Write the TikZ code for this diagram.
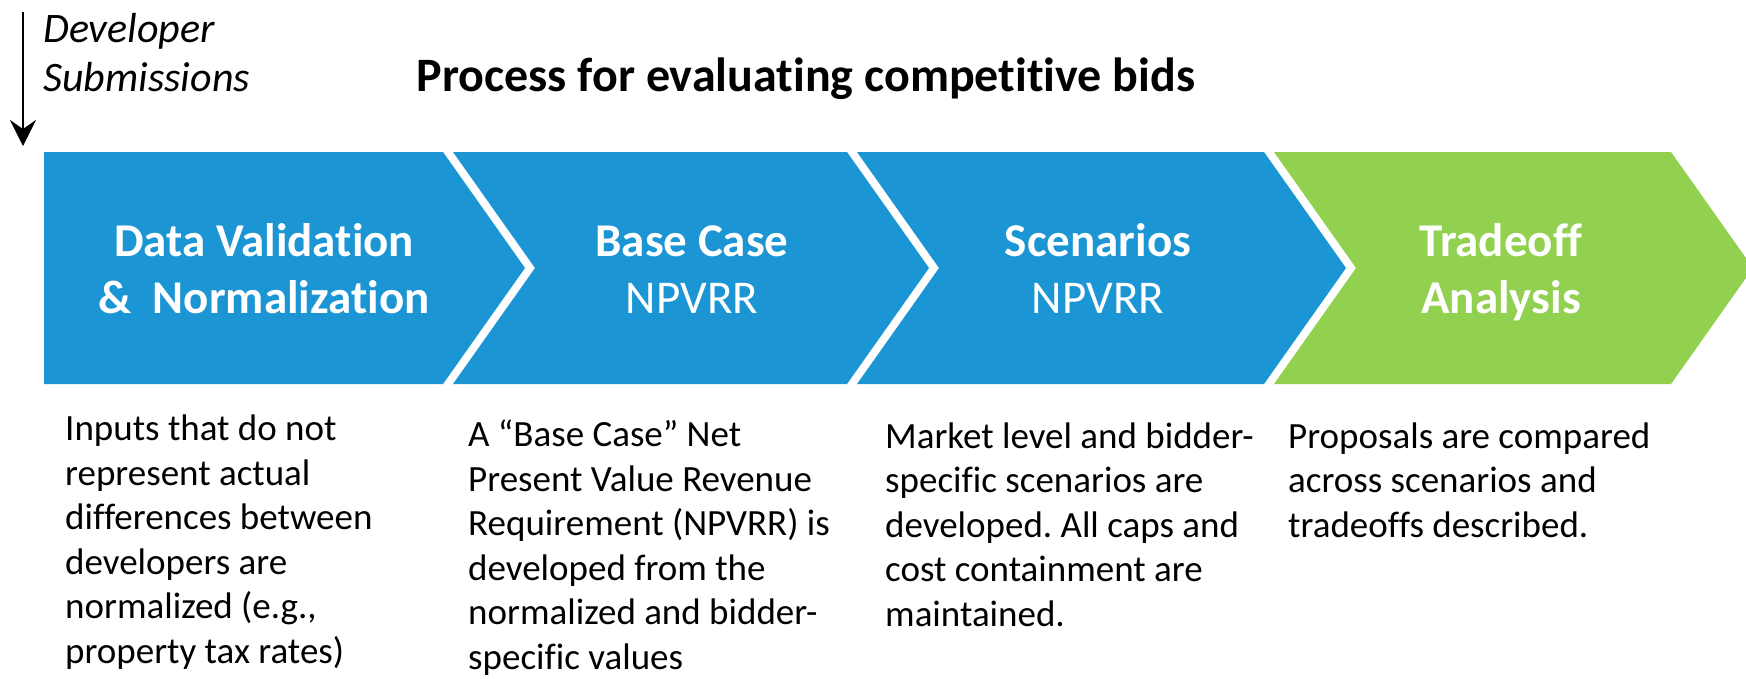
\documentclass[tikz,border=0pt]{standalone}
\usepackage{fontspec}
\setmainfont{Carlito}[Ligatures=NoCommon]
\usetikzlibrary{arrows.meta}
\definecolor{stepblue}{HTML}{1B95D3}
\definecolor{stepgreen}{HTML}{92D050}
\frenchspacing
\begin{document}
\begin{tikzpicture}[x=1pt,y=-1pt,
  % multi-line nodes are anchored at the baseline of their last line
  chevlabel/.style={anchor=base,text=white,align=center,inner sep=0pt,
    font=\fontsize{47}{56.7}\selectfont},
  bodytext/.style={anchor=base west,align=left,inner sep=0pt,
    font=\fontsize{37}{44.5}\selectfont},
  headtext/.style={anchor=base,inner sep=0pt,font=\bfseries\fontsize{48}{56}\selectfont},
  sidetext/.style={anchor=base west,align=left,inner sep=0pt,
    font=\itshape\fontsize{42}{49.5}\selectfont}]
\useasboundingbox (0,0) rectangle (1746,678);
\clip (0,0) rectangle (1746,678);

% process chevrons
\fill[stepblue] (44,152) -- (443,152) -- (525,268) -- (443,384) -- (44,384) -- cycle;
\fill[stepblue] (453,152) -- (847,152) -- (929,268) -- (847,384) -- (453,384) -- (535,268) -- cycle;
\fill[stepblue] (857,152) -- (1264,152) -- (1346,268) -- (1264,384) -- (857,384) -- (939,268) -- cycle;
\fill[stepgreen] (1274,152) -- (1671,152) -- (1753,268) -- (1671,384) -- (1274,384) -- (1356,268) -- cycle;

% chevron labels
\node[chevlabel] (s1) at (264,313.5) {\bfseries Data Validation\\\bfseries \&\ \ Normalization};
\node[chevlabel] (s2) at (692,313.5) {\bfseries Base Case\\NPVRR};
\node[chevlabel] (s3) at (1098,313.5) {\bfseries Scenarios\\NPVRR};
\node[chevlabel] (s4) at (1501,313.5) {\bfseries Tradeoff\\\bfseries Analysis};

% title and input arrow
\node[headtext] (title) at (806,91) {Process for evaluating competitive bids};
\node[sidetext] (dev) at (43,91.5) {Developer\\Submissions};
\coordinate (arrtop) at (23,12);
\coordinate (arrtip) at (23,146);
\draw[line width=2pt,-{Stealth[length=26pt,width=26pt,inset=9pt]}] (arrtop) -- (arrtip);

% step descriptions
\node[bodytext] (d1) at (65,663) {Inputs that do not\\represent actual\\differences between\\developers are\\normalized (e.g.,\\property tax rates)};
\node[bodytext] (d2) at (468,669) {A “Base Case” Net\\Present Value Revenue\\Requirement (NPVRR) is\\developed from the\\normalized and bidder-\\specific values};
\node[bodytext] (d3) at (885,626) {Market level and bidder-\\specific scenarios are\\developed. All caps and\\cost containment are\\maintained.};
\node[bodytext] (d4) at (1288,537) {Proposals are compared\\across scenarios and\\tradeoffs described.};
\end{tikzpicture}
\end{document}
